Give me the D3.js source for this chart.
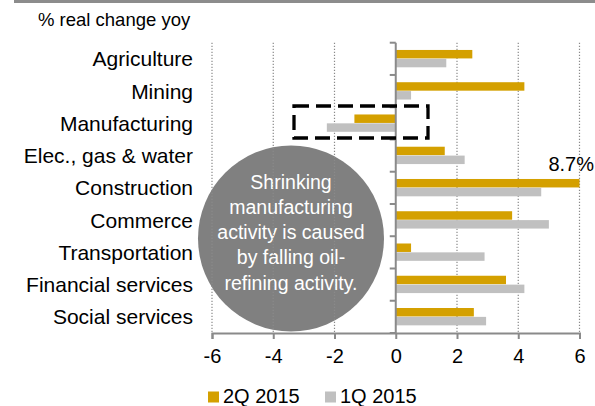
<!DOCTYPE html>
<html>
<head>
<meta charset="utf-8">
<script src="https://cdn.jsdelivr.net/npm/d3@7"></script>
<style>
  body { margin: 0; background: #fff; }
  svg { font-family: "Liberation Sans", Arial, sans-serif; }
</style>
</head>
<body>
<div id="chart"></div>
<script>
// data
var sectors = ["Agriculture", "Mining", "Manufacturing", "Elec., gas & water", "Construction",
               "Commerce", "Transportation", "Financial services", "Social services"];
var series = ["2Q 2015", "1Q 2015"];
var q2_2015 = [2.5, 4.2, -1.35, 1.6, 8.7, 3.8, 0.5, 3.6, 2.55];
var q1_2015 = [1.65, 0.5, -2.25, 2.25, 4.75, 5.0, 2.9, 4.2, 2.95];
var xTicks = [-6, -4, -2, 0, 2, 4, 6];
var colors = ["#d4a000", "#c0c0c0"];
var note = ["Shrinking", "manufacturing", "activity is caused", "by falling oil-", "refining activity."];

var width = 595, height = 406;
var svg = d3.select("#chart").append("svg")
    .attr("width", width)
    .attr("height", height);

var x = d3.scaleLinear().domain([-6, 6]).range([212, 579.5]).clamp(true);
var y = d3.scaleBand().domain(sectors).range([42.7, 333])
    .paddingInner(0.45).paddingOuter(0.225);
var ySub = d3.scaleBand().domain(series).range([0, y.bandwidth()]);
var step = y.step();

// top rule
svg.append("rect").attr("x", 14).attr("y", 0).attr("width", width - 14).attr("height", 3)
    .attr("fill", "#8c8c8c");

svg.append("text").attr("x", 38).attr("y", 26)
    .attr("font-size", 18.5).attr("fill", "#000")
    .text("% real change yoy");

// the note circle sits behind the grid
var circ = svg.append("g").attr("transform", "translate(291,238.5)");
circ.append("circle").attr("r", 93).attr("fill", "#808080");
circ.selectAll("text").data(note).enter().append("text")
    .attr("text-anchor", "middle")
    .attr("y", function(d, i) { return -50 + i * 25.3; })
    .attr("font-size", 19.5).attr("fill", "#fff")
    .text(function(d) { return d; });

// dotted grid
svg.append("g").selectAll("line")
    .data(xTicks.filter(function(d) { return d != 0; }))
    .enter().append("line")
    .attr("x1", function(d) { return x(d); })
    .attr("x2", function(d) { return x(d); })
    .attr("y1", 42.7).attr("y2", 333)
    .attr("stroke", "#8a8a8a").attr("stroke-width", 1.2)
    .attr("stroke-dasharray", "1.2,1.8");

// bars
var rows = sectors.map(function(s, i) {
    return { name: s, vals: [q2_2015[i], q1_2015[i]] };
});
var g = svg.append("g").selectAll("g").data(rows).enter().append("g")
    .attr("transform", function(d) { return "translate(0," + y(d.name) + ")"; });
g.selectAll("rect").data(function(d) {
        return d.vals.map(function(v, j) { return { key: series[j], v: v, c: colors[j] }; });
    })
    .enter().append("rect")
    .attr("x", function(d) { return x(Math.min(0, d.v)); })
    .attr("width", function(d) { return Math.abs(x(d.v) - x(0)); })
    .attr("y", function(d) { return ySub(d.key); })
    .attr("height", ySub.bandwidth() - 0.4)
    .attr("fill", function(d) { return d.c; });

// clipped value label
svg.append("text")
    .attr("x", 594).attr("y", y("Construction") - 8)
    .attr("text-anchor", "end").attr("font-size", 20)
    .text(q2_2015[4] + "%");

// x axis
var xAxis = d3.axisBottom(x).tickValues(xTicks).tickSize(6).tickPadding(10)
    .tickFormat(function(d) { return d < 0 ? "-" + Math.abs(d) : d; });
var xg = svg.append("g").attr("transform", "translate(0,333)").call(xAxis);
xg.select(".domain").attr("stroke", "#8a8a8a").attr("stroke-width", 2);
xg.selectAll(".tick line").attr("stroke", "#8a8a8a").attr("stroke-width", 2);
xg.selectAll("text").attr("font-size", 20).attr("fill", "#000")
    .attr("font-family", "Liberation Sans, Arial, sans-serif");

// y axis at zero
var yb = svg.append("g");
yb.append("line").attr("x1", x(0)).attr("x2", x(0)).attr("y1", 42.7).attr("y2", 333)
    .attr("stroke", "#8a8a8a").attr("stroke-width", 2);
yb.selectAll(".yt").data(d3.range(sectors.length + 1)).enter().append("line")
    .attr("x1", x(0) - 6).attr("x2", x(0))
    .attr("y1", function(i) { return 42.7 + i * step; })
    .attr("y2", function(i) { return 42.7 + i * step; })
    .attr("stroke", "#8a8a8a").attr("stroke-width", 2);

// category labels
svg.append("g").selectAll("text").data(sectors).enter().append("text")
    .attr("x", 193)
    .attr("y", function(d) { return y(d) + y.bandwidth() / 2 + 7.5; })
    .attr("text-anchor", "end").attr("font-size", 21)
    .text(function(d) { return d; });

// dashed highlight box
svg.append("rect").attr("x", 294).attr("y", 106).attr("width", 134).attr("height", 32)
    .attr("fill", "none").attr("stroke", "#000").attr("stroke-width", 3.3)
    .attr("stroke-dasharray", "15,7");

// legend
var leg = svg.append("g").selectAll("g").data(series).enter().append("g")
    .attr("transform", function(d, i) { return "translate(" + (208 + i * 117) + ",391.5)"; });
leg.append("rect").attr("width", 11).attr("height", 11)
    .attr("fill", function(d, i) { return colors[i]; });
leg.append("text").attr("x", 15).attr("y", 11.3).attr("font-size", 20)
    .text(function(d) { return d; });
</script>
</body>
</html>
